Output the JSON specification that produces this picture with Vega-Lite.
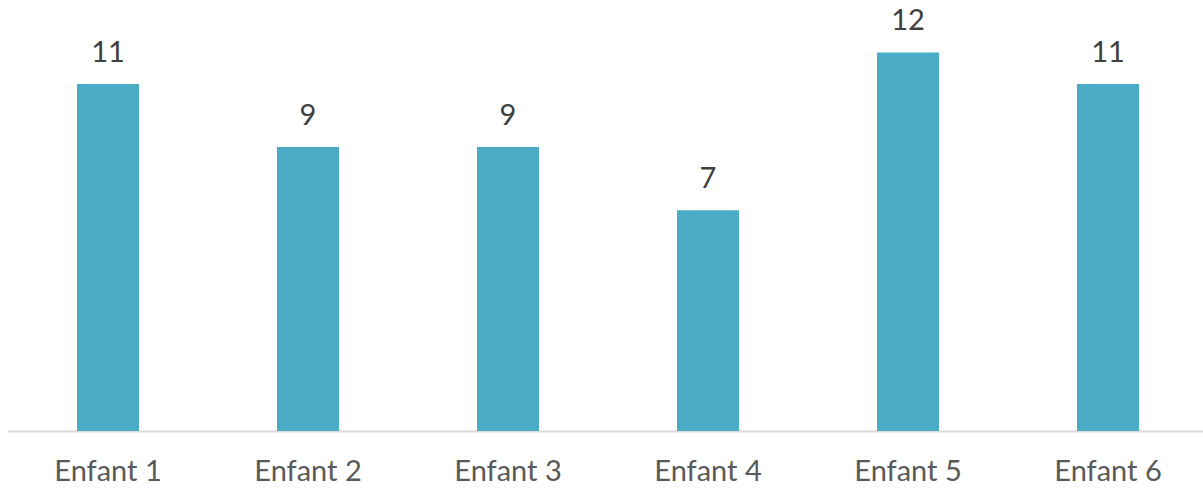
{
  "$schema": "https://vega.github.io/schema/vega-lite/v6.json",
  "autosize": "none",
  "width": 1200,
  "height": 431,
  "padding": {"left": 8, "top": 0, "right": 0, "bottom": 58},
  "background": "white",
  "config": {"view": {"stroke": null}},
  "data": {"values": [
    {"enfant": "Enfant 1", "valeur": 11},
    {"enfant": "Enfant 2", "valeur": 9},
    {"enfant": "Enfant 3", "valeur": 9},
    {"enfant": "Enfant 4", "valeur": 7},
    {"enfant": "Enfant 5", "valeur": 12},
    {"enfant": "Enfant 6", "valeur": 11}
  ]},
  "encoding": {
    "x": {"field": "enfant", "type": "nominal", "sort": null,
      "scale": {"paddingInner": 0, "paddingOuter": 0},
      "axis": {"title": null, "domainColor": "#D9D9D9", "domainWidth": 2, "ticks": false,
        "labelAngle": 0, "labelFont": "Lato", "labelFontSize": 29, "labelColor": "#595959", "labelPadding": 26}},
    "y": {"field": "valeur", "type": "quantitative",
      "scale": {"domain": [0, 13.66], "nice": false, "zero": true},
      "axis": null}
  },
  "layer": [
    {"mark": {"type": "bar", "size": 62, "color": "#4BACC6"}},
    {"mark": {"type": "text", "baseline": "alphabetic", "dy": -22, "font": "Lato", "fontSize": 29, "color": "#404040"},
      "encoding": {"text": {"field": "valeur", "type": "quantitative"}}}
  ]
}
